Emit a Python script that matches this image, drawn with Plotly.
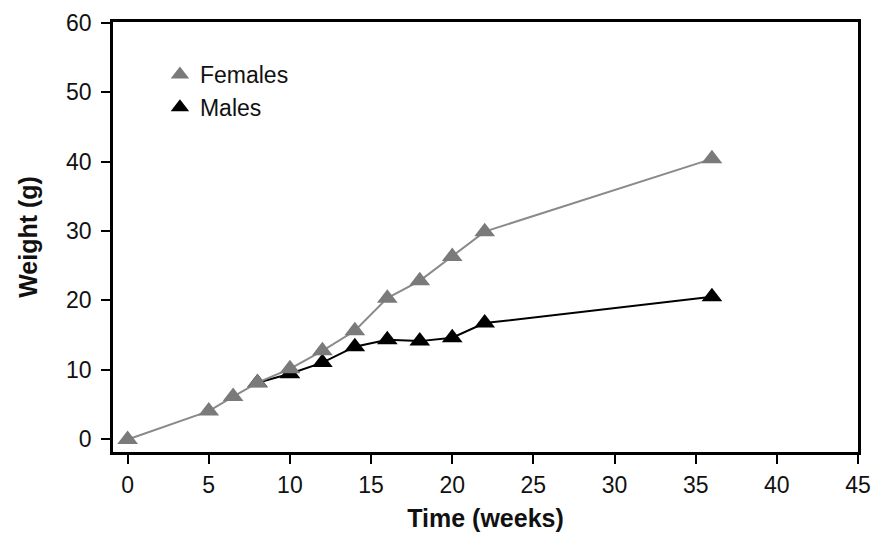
import plotly.graph_objects as go

# Data
female_weeks = [0, 5, 6.5, 8, 10, 12, 14, 16, 18, 20, 22, 36]
female_weight = [-0.1, 4.0, 6.1, 8.1, 10.1, 12.7, 15.6, 20.3, 22.8, 26.3, 29.9, 40.4]
male_weeks = [8, 10, 12, 14, 16, 18, 20, 22, 36]
male_weight = [8.1, 9.4, 11.0, 13.3, 14.3, 14.1, 14.6, 16.7, 20.5]
x_ticks = [0, 5, 10, 15, 20, 25, 30, 35, 40, 45]
y_ticks = [0, 10, 20, 30, 40, 50, 60]

FONT = "Liberation Sans, Arial, sans-serif"
FEMALE_MARKER = "#7a7a7a"
FEMALE_LINE = "#8a8a8a"
MALE_COLOR = "#000000"

fig = go.Figure()
fig.add_trace(go.Scatter(
    x=male_weeks, y=male_weight, name="Males", mode="lines+markers",
    line=dict(color=MALE_COLOR, width=2),
    marker=dict(symbol="triangle-up", size=18, color=MALE_COLOR),
    showlegend=False,
))
fig.add_trace(go.Scatter(
    x=female_weeks, y=female_weight, name="Females", mode="lines+markers",
    line=dict(color=FEMALE_LINE, width=2),
    marker=dict(symbol="triangle-up", size=18, color=FEMALE_MARKER),
    showlegend=False,
))
# legend entries (marker only, as in the reference)
fig.add_trace(go.Scatter(
    x=[None], y=[None], name="Females", mode="markers",
    marker=dict(symbol="triangle-up", size=16, color=FEMALE_MARKER),
    legendrank=1,
))
fig.add_trace(go.Scatter(
    x=[None], y=[None], name="Males", mode="markers",
    marker=dict(symbol="triangle-up", size=16, color=MALE_COLOR),
    legendrank=2,
))

axis_common = dict(
    showline=True, linecolor="#000000", linewidth=2.5, mirror=True,
    ticks="outside", ticklen=9, tickwidth=2, tickcolor="#000000",
    showgrid=False, zeroline=False, automargin=False,
    tickfont=dict(family=FONT, size=23, color="#111111"),
)

# the page body has an 8px margin on every side
fig.update_layout(
    width=866, height=524,
    margin=dict(l=105, r=16, t=14, b=80),
    paper_bgcolor="white", plot_bgcolor="white",
    showlegend=True,
    legend=dict(x=0.063, y=0.928, xanchor="left", yanchor="top",
                font=dict(family=FONT, size=23, color="#111111"),
                bgcolor="rgba(0,0,0,0)", tracegroupgap=0),
    xaxis=dict(range=[-0.9, 45], tickvals=x_ticks, ticklabelstandoff=2,
               title=dict(text="<b>Time (weeks)</b>", standoff=18,
                          font=dict(family=FONT, size=25, color="#111111")),
               **axis_common),
    yaxis=dict(range=[-1.9, 60.15], tickvals=y_ticks, ticklabelstandoff=5,
               title=dict(text="<b>Weight (g)</b>", standoff=22,
                          font=dict(family=FONT, size=25, color="#111111")),
               **axis_common),
)

fig.write_html("out.html")
